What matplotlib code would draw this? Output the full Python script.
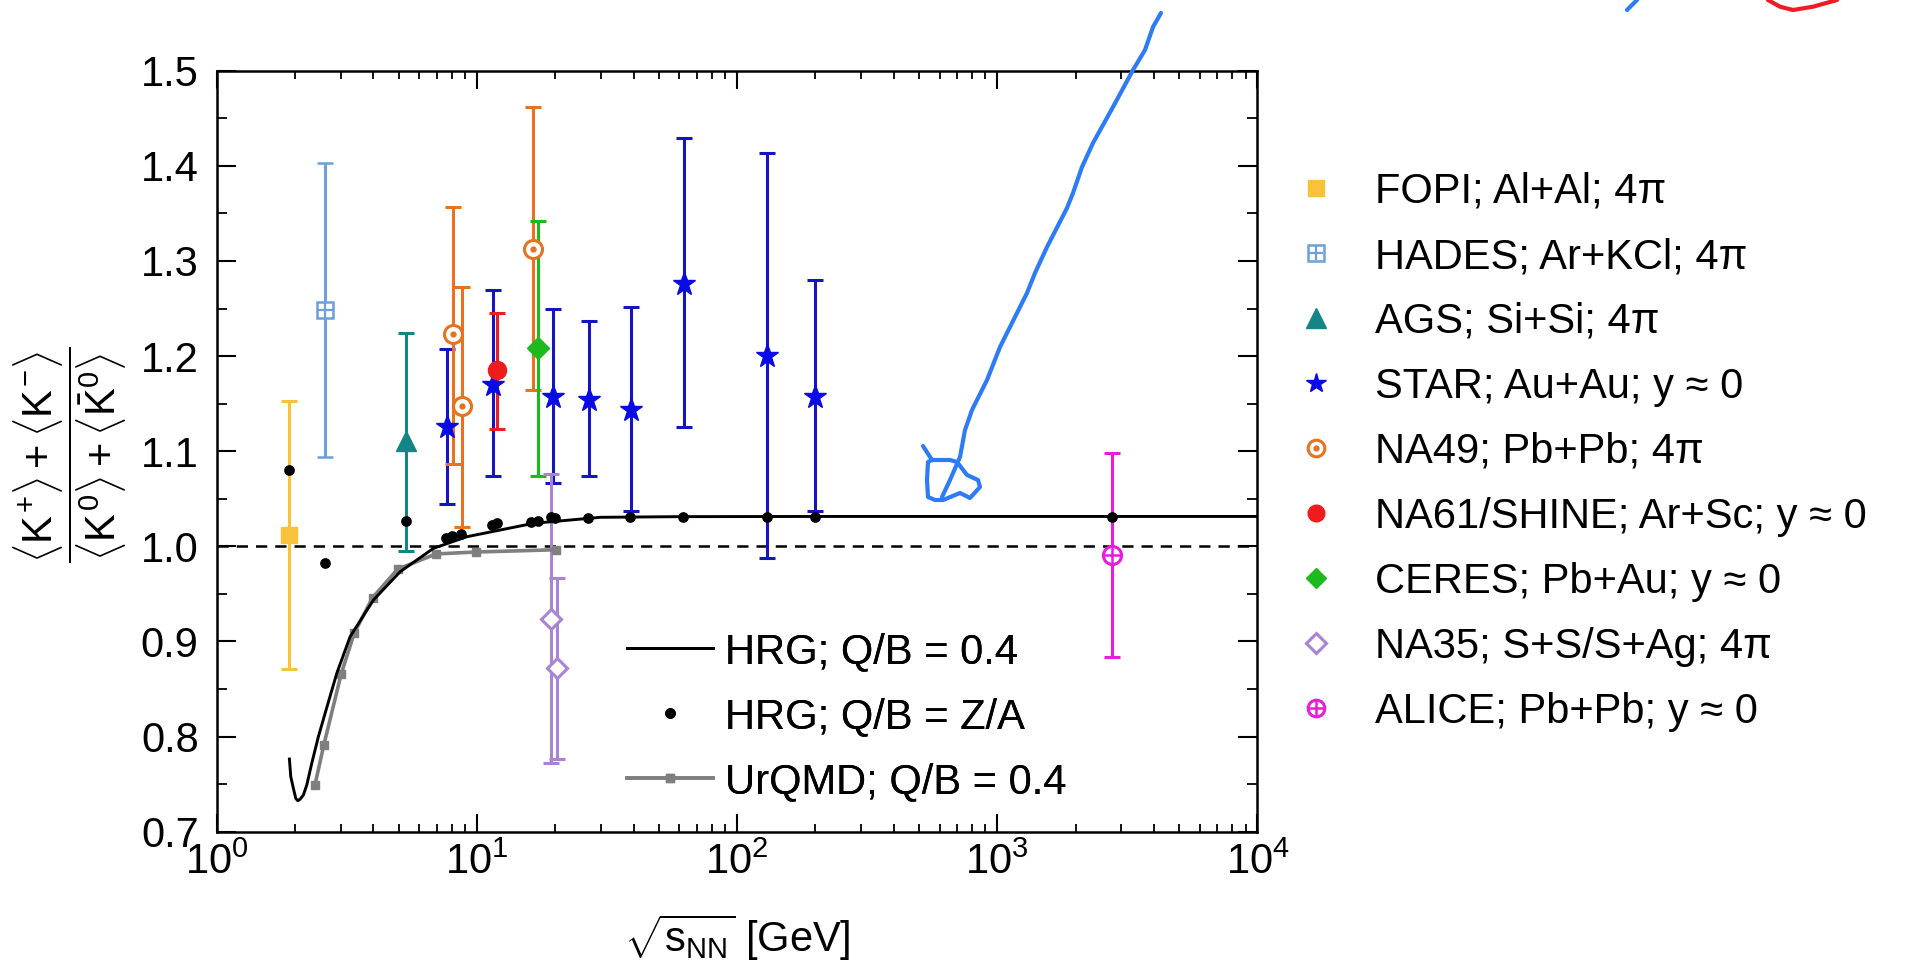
import numpy as np
import matplotlib.pyplot as plt
from matplotlib.lines import Line2D
from matplotlib.ticker import MultipleLocator, FormatStrFormatter

plt.rcParams['font.family'] = ['Liberation Sans', 'DejaVu Sans']
plt.rcParams['mathtext.fontset'] = 'custom'
plt.rcParams['mathtext.rm'] = 'Liberation Sans'
plt.rcParams['mathtext.it'] = 'Liberation Sans'
plt.rcParams['mathtext.bf'] = 'Liberation Sans:bold'

W, H = 1928, 967
FS = 30

# data: sqrt(s_NN) [GeV], ratio, lower / upper end of error bar
fopi_x = [1.9]
fopi_y = [1.012]
fopi_lo = [0.871]
fopi_hi = [1.153]

hades_x = [2.6]
hades_y = [1.248]
hades_lo = [1.094]
hades_hi = [1.403]

ags_x = [5.36]
ags_y = [1.111]
ags_lo = [0.995]
ags_hi = [1.224]

star_x = [7.7, 11.5, 19.6, 27, 39, 62.4, 130, 200]
star_y = [1.125, 1.170, 1.157, 1.154, 1.143, 1.276, 1.200, 1.157]
star_lo = [1.044, 1.074, 1.067, 1.074, 1.037, 1.125, 0.988, 1.037]
star_hi = [1.207, 1.269, 1.249, 1.237, 1.252, 1.429, 1.413, 1.280]

na49_x = [8.1, 8.75, 16.5]
na49_y = [1.223, 1.147, 1.313]
na49_lo = [1.087, 1.020, 1.164]
na49_hi = [1.357, 1.273, 1.462]

na61_x = [11.9]
na61_y = [1.185]
na61_lo = [1.123]
na61_hi = [1.245]

ceres_x = [17.2]
ceres_y = [1.208]
ceres_lo = [1.074]
ceres_hi = [1.342]

na35_x = [19.3, 20.3]
na35_y = [0.924, 0.872]
na35_lo = [0.7725, 0.776]
na35_hi = [1.076, 0.967]

alice_x = [2760]
alice_y = [0.991]
alice_lo = [0.884]
alice_hi = [1.098]

# HRG, Q/B = 0.4 (curve)
hrg_x = [1.903, 1.926, 1.971, 2.013, 2.049, 2.091, 2.154, 2.219, 2.319, 2.459, 2.61, 2.894,
         3.256, 4.003, 5.07, 6.81, 9.15, 16.5, 29.8, 60, 200, 1000, 10000]
hrg_y = [0.7764, 0.7578, 0.7456, 0.7351, 0.7326, 0.7341, 0.7386, 0.7491, 0.7719, 0.7999,
         0.8245, 0.8665, 0.905, 0.9436, 0.9733, 0.9979, 1.0101, 1.0242, 1.0305, 1.0312,
         1.0314, 1.0314, 1.0314]

# HRG, Q/B = Z/A (dots)
hrgza_x = [1.9, 2.6, 5.36, 7.63, 8.04, 8.69, 11.43, 11.94, 16.1, 17.1, 19.3, 20.0,
           26.8, 38.7, 62.2, 130, 200, 2760]
hrgza_y = [1.080, 0.982, 1.027, 1.009, 1.011, 1.013, 1.022, 1.024, 1.026, 1.027, 1.031, 1.030,
           1.030, 1.031, 1.031, 1.031, 1.031, 1.031]

# UrQMD, Q/B = 0.4
urqmd_x = [2.385, 2.58, 3.01, 3.38, 3.97, 4.96, 6.96, 9.9, 20.1]
urqmd_y = [0.749, 0.791, 0.866, 0.909, 0.946, 0.976, 0.992, 0.994, 0.9964]

labels = ['FOPI; Al+Al; 4π', 'HADES; Ar+KCl; 4π', 'AGS; Si+Si; 4π', 'STAR; Au+Au; y ≈ 0',
          'NA49; Pb+Pb; 4π', 'NA61/SHINE; Ar+Sc; y ≈ 0', 'CERES; Pb+Au; y ≈ 0',
          'NA35; S+S/S+Ag; 4π', 'ALICE; Pb+Pb; y ≈ 0']

# hand drawn strokes on top of the figure (pixel positions)
stroke_main_x = [1161, 1153, 1145, 1133, 1113, 1093, 1082, 1073, 1067, 1047, 1035, 1027,
                 1010, 1000, 987, 972, 965, 960, 950, 942]
stroke_main_y = [13, 27, 50, 70, 107, 143, 167, 193, 208, 247, 273, 293,
                 327, 347, 380, 410, 430, 457, 480, 497]
stroke_loop_x = [923, 932, 928, 927, 928, 935, 943, 960, 970, 980, 978, 967, 957, 950, 932]
stroke_loop_y = [446, 460, 462, 480, 497, 500, 500, 493, 498, 487, 480, 475, 462, 460, 460]
stroke_b2_x = [1637, 1627]
stroke_b2_y = [0, 10]
stroke_red_x = [1768, 1780, 1793, 1813, 1837]
stroke_red_y = [0, 6.7, 10, 6.7, 0]

c_fopi = '#F8C33A'
c_hades = '#6C9FDC'
c_ags = '#148585'
c_star = '#0A0AE6'
c_star_bar = '#1414C0'
c_na49 = '#E8731F'
c_na61 = '#EE1C1C'
c_ceres = '#1DBA1D'
c_na35 = '#A883D8'
c_alice = '#E61EDC'

fig = plt.figure(figsize=(W / 100, H / 100), dpi=100)
ax = fig.add_axes([216.7 / W, 1 - 831.7 / H, (1257.5 - 216.7) / W, (831.7 - 70.7) / H])


def yerr(y, lo, hi):
    y = np.array(y)
    return [y - np.array(lo), np.array(hi) - y]


eb = dict(ls='none', elinewidth=2.2, capsize=5.5, capthick=2.2, zorder=3)

ax.errorbar(fopi_x, fopi_y, yerr=yerr(fopi_y, fopi_lo, fopi_hi), marker='s', ms=12,
            color=c_fopi, **eb)
ax.errorbar(hades_x, hades_y, yerr=yerr(hades_y, hades_lo, hades_hi), marker='s', ms=12,
            mfc='white', mec=c_hades, mew=1.8, color=c_hades, **eb)
ax.plot(hades_x, hades_y, ls='none', marker='+', ms=11, mew=1.6, color=c_hades, zorder=4)
ax.errorbar(ags_x, ags_y, yerr=yerr(ags_y, ags_lo, ags_hi), marker='^', ms=15,
            color=c_ags, **eb)
ax.errorbar(star_x, star_y, yerr=yerr(star_y, star_lo, star_hi), marker='*', ms=17,
            mfc=c_star, mec=c_star, ecolor=c_star_bar, color=c_star, **eb)
ax.errorbar(na49_x, na49_y, yerr=yerr(na49_y, na49_lo, na49_hi), marker='o', ms=13,
            mfc='white', mec=c_na49, mew=2.2, color=c_na49, **eb)
ax.plot(na49_x, na49_y, ls='none', marker='o', ms=3.5, color=c_na49, zorder=4)
ax.errorbar(na61_x, na61_y, yerr=yerr(na61_y, na61_lo, na61_hi), marker='o', ms=13,
            color=c_na61, **eb)
ax.errorbar(ceres_x, ceres_y, yerr=yerr(ceres_y, ceres_lo, ceres_hi), marker='D', ms=11.5,
            color=c_ceres, **eb)
ax.errorbar(na35_x, na35_y, yerr=yerr(na35_y, na35_lo, na35_hi), marker='D', ms=10.5,
            mfc='white', mec=c_na35, mew=2.2, color=c_na35, **eb)
ax.errorbar(alice_x, alice_y, yerr=yerr(alice_y, alice_lo, alice_hi), marker='o', ms=13,
            mfc='white', mec=c_alice, mew=2.2, color=c_alice, **eb)
ax.plot(alice_x, alice_y, ls='none', marker='+', ms=12, mew=1.8, color=c_alice, zorder=4)

ax.axhline(1.0, color='black', lw=1.8, ls=(0, (4.5, 3.2)), zorder=2)
l_hrg, = ax.plot(hrg_x, hrg_y, color='black', lw=2.1, zorder=5)
l_za, = ax.plot(hrgza_x, hrgza_y, ls='none', marker='o', ms=6.7, color='black', zorder=6)
l_urqmd, = ax.plot(urqmd_x, urqmd_y, color='#7F7F7F', lw=2.6, marker='s', ms=6, zorder=4)

ax.set_xscale('log')
ax.set_xlim(1, 1e4)
ax.set_ylim(0.7, 1.5)
ax.yaxis.set_major_locator(MultipleLocator(0.1))
ax.yaxis.set_minor_locator(MultipleLocator(0.05))
ax.yaxis.set_major_formatter(FormatStrFormatter('%.1f'))
ax.tick_params(which='both', direction='in', top=True, right=True, labelsize=FS)
ax.tick_params(axis='y', which='major', length=14, width=1.5, pad=13)
ax.tick_params(axis='y', which='minor', length=7, width=1.3)
ax.tick_params(axis='x', which='major', length=13, width=1.5, pad=8)
ax.tick_params(axis='x', which='minor', length=6, width=1.3)
for s in ax.spines.values():
    s.set_linewidth(1.8)

fig.text(70 / W, 1 - 455 / H,
         r'$\dfrac{\langle K^{+}\rangle + \langle K^{-}\rangle}{\langle K^{0}\rangle + \langle \bar{K}^{0}\rangle}$',
         rotation=90, ha='center', va='center', fontsize=FS)
fig.text(737 / W, 1 - 938 / H, r'$\sqrt{s_{\mathrm{NN}}}$ [GeV]', ha='center', va='center',
         fontsize=FS)

leg1 = ax.legend([l_hrg, l_za, l_urqmd],
                 ['HRG; Q/B = 0.4', 'HRG; Q/B = Z/A', 'UrQMD; Q/B = 0.4'],
                 loc='upper left', bbox_to_anchor=(627 / W, 1 - 632 / H),
                 bbox_transform=fig.transFigure, frameon=False, fontsize=FS,
                 borderpad=0, borderaxespad=0, handlelength=2.06, handletextpad=0.29,
                 labelspacing=0.6)
ax.add_artist(leg1)

h = [
    Line2D([], [], ls='none', marker='s', ms=11, color=c_fopi),
    (Line2D([], [], ls='none', marker='s', ms=11, mfc='white', mec=c_hades, mew=1.8),
     Line2D([], [], ls='none', marker='+', ms=10, mew=1.6, color=c_hades)),
    Line2D([], [], ls='none', marker='^', ms=14, color=c_ags),
    Line2D([], [], ls='none', marker='*', ms=15, color=c_star),
    (Line2D([], [], ls='none', marker='o', ms=12, mfc='white', mec=c_na49, mew=2.2),
     Line2D([], [], ls='none', marker='o', ms=3.5, color=c_na49)),
    Line2D([], [], ls='none', marker='o', ms=12, color=c_na61),
    Line2D([], [], ls='none', marker='D', ms=10.5, color=c_ceres),
    Line2D([], [], ls='none', marker='D', ms=10, mfc='white', mec=c_na35, mew=2.2),
    (Line2D([], [], ls='none', marker='o', ms=12, mfc='white', mec=c_alice, mew=2.2),
     Line2D([], [], ls='none', marker='+', ms=11, mew=1.8, color=c_alice)),
]
fig.legend(h, labels, loc='upper left', bbox_to_anchor=(1295 / W, 1 - 172 / H),
           bbox_transform=fig.transFigure, frameon=False, fontsize=FS,
           borderpad=0, borderaxespad=0, handlelength=1.0, handletextpad=0.92,
           labelspacing=0.6)

stroke_kw = dict(transform=fig.transFigure, lw=3.0, solid_capstyle='round',
                 solid_joinstyle='round', zorder=10)
for sx, sy, col in [(stroke_main_x, stroke_main_y, '#2D7BF6'),
                    (stroke_loop_x, stroke_loop_y, '#2D7BF6'),
                    (stroke_b2_x, stroke_b2_y, '#2D7BF6'),
                    (stroke_red_x, stroke_red_y, '#EE1C25')]:
    fig.add_artist(Line2D(np.array(sx) / W, 1 - np.array(sy) / H, color=col, **stroke_kw))

fig.savefig('out.png', dpi=100)
